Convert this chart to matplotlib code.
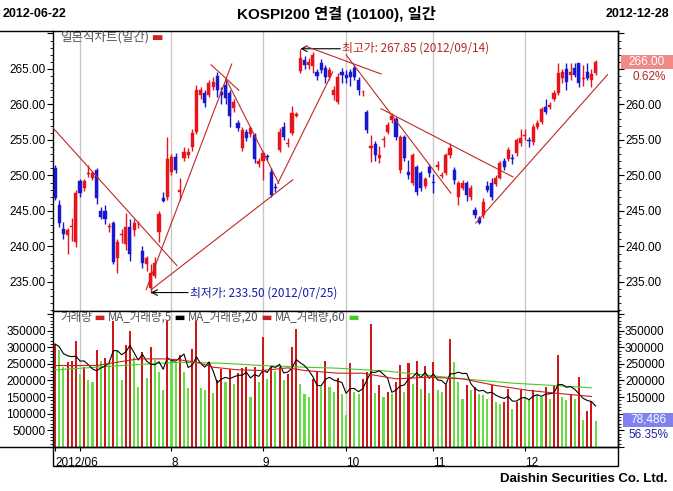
import matplotlib.pyplot as plt
import numpy as np
import pandas as pd
from matplotlib.ticker import MultipleLocator, FuncFormatter
from matplotlib.offsetbox import TextArea, HPacker, AnchoredOffsetbox
from matplotlib.patches import Rectangle

plt.rcParams['font.family'] = ['Liberation Sans', 'Noto Sans CJK KR', 'DejaVu Sans']
KR = ['Noto Sans CJK KR', 'DejaVu Sans']

# 일봉 OHLC (2012-06-22 ~ 2012-12-28, 131 거래일)
opens = [251.0, 245.8, 242.5, 241.6, 242.8, 240.6, 249.2, 248.2, 250.2, 249.6,
         250.7, 245.0, 245.0, 242.8, 243.3, 238.4, 241.6, 240.4, 242.7, 242.3,
         243.1, 239.3, 237.5, 234.1, 235.9, 242.1, 246.8, 246.9, 250.5, 252.6,
         247.7, 252.4, 252.9, 254.0, 256.1, 261.3, 261.6, 261.3, 262.5, 264.0,
         261.8, 262.7, 261.6, 259.5, 257.4, 253.8, 256.1, 255.8, 255.7, 251.6,
         252.1, 252.8, 250.5, 248.3, 253.6, 256.8, 254.4, 256.0, 258.4, 264.7,
         266.3, 265.6, 265.4, 264.6, 265.8, 265.1, 263.9, 261.3, 260.3, 264.6,
         264.2, 264.6, 265.1, 263.4, 261.7, 258.9, 253.9, 254.4, 252.4, 255.0,
         256.1, 257.8, 257.9, 250.7, 255.4, 250.5, 249.0, 251.2, 250.3, 248.5,
         251.2, 249.0, 251.2, 249.9, 250.3, 252.9, 250.7, 246.9, 248.2, 248.9,
         246.9, 245.1, 244.0, 244.4, 248.5, 248.9, 248.8, 249.7, 252.1, 252.3,
         252.4, 253.1, 254.5, 255.6, 255.0, 254.7, 256.8, 257.5, 259.6, 259.6,
         260.8, 261.6, 263.7, 265.0, 264.2, 265.1, 265.8, 263.6, 264.6, 263.4,
         264.4]
highs = [251.5, 246.5, 243.5, 242.6, 244.0, 248.0, 249.5, 249.5, 251.4, 250.6,
         251.0, 245.5, 245.8, 243.3, 243.6, 241.0, 242.5, 244.7, 243.8, 243.8,
         243.6, 240.0, 238.7, 237.5, 238.5, 245.0, 247.6, 255.4, 253.0, 253.2,
         249.6, 254.0, 253.8, 256.5, 262.7, 262.5, 262.0, 263.4, 263.8, 264.6,
         262.5, 263.5, 262.0, 260.8, 257.8, 256.8, 256.5, 257.0, 256.0, 252.5,
         253.4, 253.0, 251.0, 249.0, 256.7, 257.5, 255.3, 259.8, 258.9, 267.85,
         266.8, 266.6, 267.4, 265.0, 266.4, 265.5, 265.3, 262.6, 264.4, 265.2,
         264.8, 265.0, 265.5, 263.8, 262.0, 259.2, 255.7, 254.8, 254.2, 255.6,
         257.5, 258.8, 258.2, 255.7, 255.7, 252.2, 253.2, 251.5, 250.6, 249.8,
         251.6, 250.2, 252.0, 250.5, 253.2, 254.5, 251.2, 249.2, 249.4, 249.2,
         248.6, 245.6, 244.3, 246.8, 249.2, 249.6, 250.0, 252.0, 252.5, 254.0,
         253.0, 255.3, 256.5, 256.5, 255.4, 257.2, 257.8, 259.6, 260.8, 260.3,
         262.0, 265.8, 265.0, 265.8, 265.8, 265.8, 265.8, 265.5, 265.8, 265.0,
         266.3]
lows = [246.5, 242.8, 241.0, 239.0, 240.8, 239.9, 247.0, 247.8, 249.8, 249.3,
        246.0, 243.8, 243.2, 242.0, 237.5, 236.3, 240.5, 239.5, 238.0, 241.5,
        242.6, 237.0, 236.5, 233.5, 235.5, 240.6, 246.2, 246.5, 250.0, 250.3,
        246.5, 252.0, 252.5, 253.5, 255.8, 260.8, 259.7, 261.0, 262.0, 261.0,
        260.0, 260.0, 256.8, 259.0, 256.3, 253.5, 254.8, 255.4, 251.8, 251.2,
        249.3, 252.2, 247.0, 247.6, 253.3, 255.0, 254.0, 255.7, 258.2, 264.5,
        265.0, 265.0, 264.4, 263.5, 264.4, 263.0, 263.4, 260.6, 260.0, 263.0,
        263.0, 262.6, 263.4, 261.3, 261.2, 256.0, 251.9, 252.0, 251.8, 254.0,
        255.8, 257.4, 255.0, 250.4, 252.0, 249.5, 248.6, 247.2, 247.8, 248.2,
        249.8, 247.5, 250.8, 249.7, 250.0, 252.5, 248.8, 245.8, 247.9, 246.4,
        246.6, 244.0, 243.1, 244.0, 247.6, 246.6, 248.5, 249.5, 250.8, 252.0,
        251.6, 252.8, 254.2, 255.0, 254.0, 254.3, 256.5, 257.2, 258.6, 259.3,
        260.5, 261.3, 263.0, 262.0, 263.5, 263.8, 262.5, 262.6, 263.4, 262.5,
        264.2]
closes = [246.8, 243.3, 241.8, 242.3, 242.9, 247.5, 247.5, 249.2, 250.3, 250.3,
          246.8, 244.1, 243.8, 242.9, 237.8, 240.6, 241.8, 242.7, 239.0, 243.3,
          243.2, 237.6, 238.4, 236.3, 237.6, 244.5, 246.4, 252.3, 252.6, 250.7,
          247.9, 253.3, 253.3, 256.0, 262.0, 262.0, 260.2, 263.0, 263.2, 262.0,
          261.3, 260.9, 258.4, 260.3, 256.7, 256.4, 255.3, 256.7, 252.3, 252.1,
          253.1, 252.6, 247.2, 248.2, 256.1, 255.4, 254.6, 258.8, 258.6, 266.5,
          265.6, 266.0, 267.0, 264.0, 264.9, 263.9, 264.9, 262.0, 263.9, 264.2,
          263.7, 263.9, 263.9, 262.0, 261.8, 256.4, 254.1, 252.9, 252.9, 255.1,
          257.1, 258.4, 255.4, 255.4, 252.4, 250.0, 252.9, 247.6, 248.3, 249.5,
          250.3, 248.9, 251.4, 250.1, 252.9, 253.8, 249.3, 248.9, 248.9, 247.2,
          248.2, 244.4, 243.3, 246.2, 247.9, 246.9, 249.7, 251.7, 251.2, 253.6,
          252.3, 255.0, 255.3, 255.7, 254.9, 256.8, 257.4, 259.3, 258.9, 259.9,
          261.6, 264.4, 264.6, 263.2, 264.6, 264.2, 263.0, 263.7, 263.7, 264.36,
          266.0]

# 거래량 (천 계약 단위로 읽음)
volume_k = [310, 293, 240, 255, 260, 318, 220, 240, 200, 195,
            292, 260, 268, 250, 380, 290, 200, 308, 350, 270,
            180, 285, 208, 302, 262, 225, 172, 380, 260, 255,
            278, 225, 178, 295, 380, 178, 170, 255, 162, 200,
            235, 195, 235, 190, 222, 237, 240, 150, 240, 195,
            330, 205, 240, 228, 240, 200, 220, 300, 355, 190,
            158, 150, 205, 225, 180, 258, 180, 165, 207, 160,
            95, 252, 165, 160, 205, 225, 370, 162, 185, 150,
            165, 160, 195, 248, 165, 253, 190, 260, 175, 245,
            162, 255, 172, 165, 185, 325, 255, 195, 145, 187,
            170, 180, 160, 155, 145, 185, 135, 130, 135, 175,
            115, 135, 172, 148, 140, 170, 155, 150, 180, 145,
            185, 278, 150, 140, 155, 145, 210, 82, 108, 139.28,
            78.486]

# 거래량 이동평균 20, 60
ma20_idx = [0, 10, 15, 20, 26, 30, 34, 38, 44, 50, 56, 60, 68, 74, 82, 90, 98, 106, 114, 122, 129]
ma20_k = [245, 245, 255, 265, 265, 262, 255, 240, 232, 230, 238, 230, 222, 222, 205, 210, 205, 185, 170, 160, 152]
ma60_idx = [0, 10, 20, 30, 40, 50, 60, 68, 80, 90, 100, 110, 120, 129]
ma60_k = [232, 240, 248, 255, 252, 245, 240, 237, 228, 215, 203, 192, 185, 178]

# 월 구분
month_idx = [0, 6, 28, 50, 70, 91, 113]
month_lbl = ['2012/06', '', '8', '9', '10', '11', '12']

# 추세선 (시작 index, 가격, 끝 index, 가격)
tl_x0 = [-0.5, 21.9, 23.1, 37.5, 41.1, 53.6, 60.3, 70.0, 78.4, 101.2]
tl_y0 = [256.7, 233.9, 233.9, 265.6, 263.6, 248.9, 268.2, 267.0, 259.4, 243.3]
tl_x1 = [29.3, 42.5, 57.2, 44.2, 53.8, 66.8, 78.4, 95.2, 110.1, 132.9]
tl_y1 = [237.3, 265.7, 249.4, 262.0, 248.9, 264.6, 264.3, 247.5, 249.8, 264.2]

W, H = 673, 491
def rect(x0, y0, x1, y1):
    return [x0 / W, 1 - y1 / H, (x1 - x0) / W, (y1 - y0) / H]

fig = plt.figure(figsize=(W / 100, H / 100), dpi=100)
ax = fig.add_axes(rect(53, 31, 618, 311))
axv = fig.add_axes(rect(53, 311, 618, 447), sharex=ax)

RED = '#e8141c'
BLUE = '#1818d0'

o = np.array(opens); h = np.array(highs); l = np.array(lows); c = np.array(closes)
x = np.arange(len(o))
up = c >= o
cols = np.where(up, RED, BLUE)

# 캔들
ax.vlines(x, l, h, colors=cols, lw=1, zorder=3)
body_bot = np.minimum(o, c)
body_h = np.maximum(np.abs(c - o), 0.12)
ax.bar(x, body_h, bottom=body_bot, width=0.75, color=cols, edgecolor=cols, lw=0.3, zorder=4)

# 추세선
for a0, b0, a1, b1 in zip(tl_x0, tl_y0, tl_x1, tl_y1):
    ax.plot([a0, a1], [b0, b1], color='#c02828', lw=0.8, zorder=5)

for m in month_idx[1:]:
    ax.axvline(m, color='#c8c8c8', lw=1, zorder=1)
    axv.axvline(m, color='#c8c8c8', lw=1, zorder=1)


def style_y(a, major, minor, fmt_left, fmt_right):
    a.yaxis.set_major_locator(MultipleLocator(major))
    a.yaxis.set_minor_locator(MultipleLocator(minor))
    a.yaxis.set_major_formatter(FuncFormatter(fmt_left))
    a.tick_params(axis='y', which='both', direction='out', labelsize=8.5, pad=1)
    a.tick_params(axis='y', which='major', length=4)
    a.tick_params(axis='y', which='minor', length=2)
    sec = a.secondary_yaxis('right')
    sec.yaxis.set_major_locator(MultipleLocator(major))
    sec.yaxis.set_minor_locator(MultipleLocator(minor))
    sec.yaxis.set_major_formatter(FuncFormatter(fmt_right))
    sec.tick_params(axis='y', which='both', direction='out', labelsize=8.5, pad=1)
    sec.tick_params(axis='y', which='major', length=4)
    sec.tick_params(axis='y', which='minor', length=2)
    sec.spines['right'].set_linewidth(1)


ax.set_xlim(-0.5, 135.4)
ax.set_ylim(230.9, 270.35)
style_y(ax, 5, 1,
        lambda v, p: '' if v > 268 else f'{v:.2f}',
        lambda v, p: '' if v > 263 else f'{v:.2f}')
ax.tick_params(axis='x', which='both', bottom=False, labelbottom=False)

# 최고가 / 최저가
hi_i = int(np.argmax(h)); lo_i = int(np.argmin(l))
ax.annotate('', xy=(hi_i, h[hi_i]), xytext=(hi_i + 9.6, h[hi_i]),
            arrowprops=dict(arrowstyle='->', color='black', lw=0.8, shrinkA=0, shrinkB=0))
ax.text(hi_i + 10, h[hi_i] + 0.1, f'최고가: {h[hi_i]:.2f} (2012/09/14)', color='#b02828',
        fontsize=8.5, va='center', ha='left', family=KR)
ax.annotate('', xy=(lo_i, l[lo_i]), xytext=(lo_i + 9.0, l[lo_i]),
            arrowprops=dict(arrowstyle='->', color='black', lw=0.8, shrinkA=0, shrinkB=0))
ax.text(lo_i + 9.4, l[lo_i], f'최저가: {l[lo_i]:.2f} (2012/07/25)', color='#1a1aa8',
        fontsize=8.5, va='center', ha='left', family=KR)

# 거래량
vol = np.array(volume_k) * 1000
vcols = ['#cc1818' if i == 0 or vol[i] > vol[i - 1] else '#66dd44' for i in range(len(vol))]
axv.bar(x, vol, width=0.5, color=vcols, zorder=2)
ma5 = pd.Series(vol).rolling(5, min_periods=1).mean()
axv.plot(x, ma5, color='black', lw=0.8, zorder=4)
axv.plot(ma20_idx, np.array(ma20_k) * 1000, color='#c82020', lw=0.8, zorder=4)
axv.plot(ma60_idx, np.array(ma60_k) * 1000, color='#44cc22', lw=0.8, zorder=3)

axv.set_ylim(0, 409000)
style_y(axv, 50000, 10000,
        lambda v, p: '' if v <= 0 or v > 380000 else f'{int(v)}',
        lambda v, p: '' if v <= 100000 or v > 380000 else f'{int(v)}')
axv.set_xticks(month_idx)
axv.set_xticklabels(month_lbl, ha='left')
axv.tick_params(axis='x', direction='out', length=3, labelsize=8.5, pad=4, colors='black')

for a in (ax, axv):
    for s in a.spines.values():
        s.set_color('black'); s.set_linewidth(1)

# 아래 날짜 박스와 구분선
fig.add_artist(Rectangle((53 / W, 1 - 466 / H), 565 / W, 19 / H, transform=fig.transFigure,
                         fill=False, edgecolor='black', lw=1))
fig.add_artist(plt.Line2D([0, 53 / W], [1 - 447 / H] * 2, color='black', lw=1))
fig.add_artist(plt.Line2D([0, 53 / W], [1 - 31 / H] * 2, color='black', lw=1))

# 범례
def legend(axis, parts, y_top, size):
    kids = [TextArea(t, textprops=dict(color=cc, fontsize=size, family=KR)) for t, cc in parts]
    pack = HPacker(children=kids, align='baseline', pad=0, sep=0)
    box = AnchoredOffsetbox(loc='upper left', child=pack, pad=0, frameon=False, borderpad=0,
                            bbox_to_anchor=(60 / W, 1 - y_top / H), bbox_transform=fig.transFigure)
    axis.add_artist(box)

legend(ax, [('일본식차트(일간)', '#505050'), (' ▬', '#d02020')], 31, 9)
legend(axv, [('거래량', '#505050'), (' ▬ ', '#d02020'), ('MA_거래량,5', '#505050'), (' ▬ ', 'black'),
             ('MA_거래량,20', '#505050'), (' ▬ ', '#c82020'), ('MA_거래량,60', '#505050'), (' ▬', '#44cc22')],
       311, 8.3)

# 제목줄
top = dict(fontweight='bold', va='center',
           family=['Liberation Sans Narrow', 'Liberation Sans', 'Noto Sans CJK KR', 'DejaVu Sans'])
fig.text(3 / W, 1 - 14 / H, '2012-06-22', ha='left', fontsize=9, **top)
fig.text(336 / W, 1 - 14 / H, 'KOSPI200 연결 (10100), 일간', ha='center', fontsize=11, **top)
fig.text(669 / W, 1 - 14 / H, '2012-12-28', ha='right', fontsize=9, **top)
fig.text(668 / W, 1 - 479 / H, 'Daishin Securities Co. Ltd.', ha='right', va='center',
         fontsize=9.5, fontweight='bold')

# 오른쪽 현재값 표시
fig.add_artist(Rectangle((621 / W, 1 - 69 / H), 52 / W, 14 / H, transform=fig.transFigure,
                         facecolor='#f08a8a', edgecolor='none', zorder=5))
fig.text(647 / W, 1 - 62 / H, f'{c[-1]:.2f}', ha='center', va='center', color='white',
         fontsize=8.5, zorder=6)
fig.text(649 / W, 1 - 77 / H, f'{(c[-1] / c[-2] - 1) * 100:.2f}%', ha='center', va='center',
         color='#b02828', fontsize=8.5, zorder=6)
fig.add_artist(Rectangle((623 / W, 1 - 427 / H), 50 / W, 14 / H, transform=fig.transFigure,
                         facecolor='#8080ee', edgecolor='none', zorder=5))
fig.text(648 / W, 1 - 420 / H, f'{int(vol[-1]):,}', ha='center', va='center', color='white',
         fontsize=8.5, zorder=6)
fig.text(648 / W, 1 - 435 / H, f'{vol[-1] / vol[-2] * 100:.2f}%', ha='center', va='center',
         color='#2020a8', fontsize=8.5, zorder=6)

fig.savefig('out.png', dpi=100)
